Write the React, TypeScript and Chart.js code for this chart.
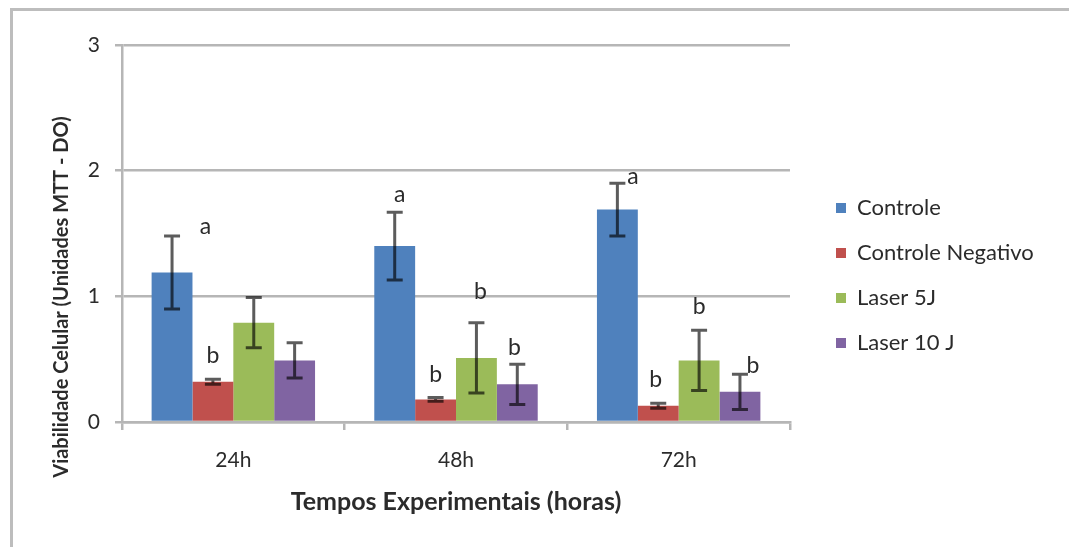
import React, { useEffect, useRef } from 'react';
import { Chart, registerables } from 'chart.js';

Chart.register(...registerables);

// ---------- data ----------
const categories = ['24h', '48h', '72h'];
const seriesNames = ['Controle', 'Controle Negativo', 'Laser 5J', 'Laser 10 J'];
const seriesColors = ['#4F81BD', '#C0504D', '#9BBB59', '#8064A2'];

const controle = [1.19, 1.4, 1.69];
const controleErr = [0.29, 0.27, 0.21];
const negativo = [0.32, 0.18, 0.13];
const negativoErr = [0.02, 0.015, 0.02];
const laser5 = [0.79, 0.51, 0.49];
const laser5Err = [0.2, 0.28, 0.24];
const laser10 = [0.49, 0.3, 0.24];
const laser10Err = [0.14, 0.16, 0.14];

// significance letters (text, anchor value in data units, x shift in bar widths)
const controleLetters = ['a', 'a', 'a'];
const controleLetterY = [1.5, 1.75, 1.89];
const controleLetterDx = [0.82, 0.12, 0.38];
const negativoLetters = ['b', 'b', 'b'];
const negativoLetterY = [0.47, 0.32, 0.28];
const negativoLetterDx = [0, 0, -0.06];
const laser5Letters = ['', 'b', 'b'];
const laser5LetterY = [0, 0.98, 0.86];
const laser5LetterDx = [0, 0.1, 0];
const laser10Letters = ['', 'b', 'b'];
const laser10LetterY = [0, 0.53, 0.39];
const laser10LetterDx = [0, -0.07, 0.32];

const yMin = 0;
const yMax = 3;
const yStep = 1;

const xTitle = 'Tempos Experimentais (horas)';
const yTitle = 'Viabilidade Celular (Unidades MTT - DO)';

// ---------- layout ----------
const W = 1069;
const H = 547;
const FONT = 'Lato, Calibri, Carlito, sans-serif';
const TEXT = '#2b2b2b';
const GRID = '#b6b6b6';
const LEGEND_FS = 22;
const LEGEND_PAD = 23;
const LEGEND_BOX = 10;
const LEGEND_LEFT = 813;
const RIGHT_GAP = 23;

function measure(text: string, font: string): number {
  const c = document.createElement('canvas').getContext('2d');
  if (!c) return 0;
  c.font = font;
  return c.measureText(text).width;
}

const errorBarPlugin = {
  id: 'errorBars',
  afterDatasetsDraw(chart: any) {
    const ctx = chart.ctx;
    const ys = chart.scales.y;
    ctx.save();
    ctx.strokeStyle = 'rgba(0,0,0,0.64)';
    ctx.lineWidth = 3;
    chart.data.datasets.forEach((ds: any, i: number) => {
      const meta = chart.getDatasetMeta(i);
      meta.data.forEach((bar: any, j: number) => {
        const v = ds.data[j];
        const e = ds.errors[j];
        const x = bar.x;
        const yt = ys.getPixelForValue(v + e);
        const yb = ys.getPixelForValue(v - e);
        const cap = 8;
        ctx.beginPath();
        ctx.moveTo(x, yt);
        ctx.lineTo(x, yb);
        ctx.moveTo(x - cap, yt);
        ctx.lineTo(x + cap, yt);
        ctx.moveTo(x - cap, yb);
        ctx.lineTo(x + cap, yb);
        ctx.stroke();
      });
    });
    ctx.restore();
  },
};

const letterPlugin = {
  id: 'letters',
  afterDatasetsDraw(chart: any) {
    const ctx = chart.ctx;
    const ys = chart.scales.y;
    ctx.save();
    ctx.fillStyle = TEXT;
    ctx.font = `23px ${FONT}`;
    ctx.textAlign = 'center';
    ctx.textBaseline = 'alphabetic';
    chart.data.datasets.forEach((ds: any, i: number) => {
      const meta = chart.getDatasetMeta(i);
      meta.data.forEach((bar: any, j: number) => {
        const t = ds.letters[j];
        if (!t) return;
        const x = bar.x + ds.letterDx[j] * bar.width;
        const y = ys.getPixelForValue(ds.letterY[j]);
        ctx.fillText(t, x, y);
      });
    });
    ctx.restore();
  },
};

const yTitlePlugin = {
  id: 'yTitleCustom',
  afterDraw(chart: any) {
    const ctx = chart.ctx;
    const a = chart.chartArea;
    ctx.save();
    ctx.translate(62, a.bottom - 125);
    ctx.rotate(-Math.PI / 2);
    ctx.fillStyle = TEXT;
    ctx.font = `bold 20px ${FONT}`;
    ctx.textAlign = 'center';
    ctx.textBaseline = 'middle';
    ctx.fillText(yTitle, 0, 0);
    ctx.restore();
  },
};

export default function App() {
  const ref = useRef<HTMLCanvasElement | null>(null);

  useEffect(() => {
    if (!ref.current) return;
    const legendFont = `${LEGEND_FS}px ${FONT}`;
    const tw = Math.max(...seriesNames.map((s) => measure(s, legendFont)));
    const legendWidth = LEGEND_PAD + LEGEND_BOX + LEGEND_FS / 2 + tw + 10;
    const padRight = Math.max(0, W - LEGEND_LEFT - legendWidth);

    const values = [controle, negativo, laser5, laser10];
    const errs = [controleErr, negativoErr, laser5Err, laser10Err];
    const letters = [controleLetters, negativoLetters, laser5Letters, laser10Letters];
    const letterYs = [controleLetterY, negativoLetterY, laser5LetterY, laser10LetterY];
    const letterDxs = [controleLetterDx, negativoLetterDx, laser5LetterDx, laser10LetterDx];

    const chart = new Chart(ref.current, {
      type: 'bar',
      data: {
        labels: categories,
        datasets: seriesNames.map((name, i) => ({
          label: name,
          data: values[i],
          errors: errs[i],
          letters: letters[i],
          letterY: letterYs[i],
          letterDx: letterDxs[i],
          backgroundColor: seriesColors[i],
          borderWidth: 0,
          categoryPercentage: 0.734,
          barPercentage: 1,
        })) as any,
      },
      options: {
        responsive: false,
        animation: false,
        layout: { padding: { top: 45, bottom: 41, left: 0, right: padRight } },
        plugins: {
          tooltip: { enabled: false },
          legend: {
            position: 'right',
            align: 'center',
            maxWidth: 500,
            labels: {
              boxWidth: LEGEND_BOX,
              boxHeight: LEGEND_BOX,
              padding: LEGEND_PAD,
              color: TEXT,
              font: { family: FONT, size: LEGEND_FS },
            },
          },
        },
        scales: {
          x: {
            offset: true,
            grid: {
              display: true,
              offset: true,
              drawOnChartArea: false,
              drawTicks: true,
              tickLength: 8,
              color: GRID,
              lineWidth: 2.5,
            },
            border: { display: true, color: GRID, width: 2.5 },
            ticks: { color: TEXT, font: { family: FONT, size: 21 }, padding: 18 },
            title: {
              display: true,
              text: xTitle,
              color: TEXT,
              font: { family: FONT, size: 25, weight: 'bold' },
              padding: { top: 0, bottom: -11 },
            },
            afterFit(s: any) {
              s.height = H - 41 - 422;
            },
          },
          y: {
            min: yMin,
            max: yMax,
            ticks: { stepSize: yStep, color: TEXT, font: { family: FONT, size: 21 }, padding: 15 },
            grid: { color: GRID, lineWidth: 2.5, drawTicks: true, tickLength: 7 },
            border: { display: true, color: GRID, width: 2.5 },
            afterFit(s: any) {
              s.width = 122;
            },
          },
          r: {
            type: 'linear',
            position: 'right',
            display: true,
            grid: { display: false },
            border: { display: false },
            ticks: { display: false },
            afterFit(s: any) {
              s.width = RIGHT_GAP;
            },
          },
        },
      } as any,
      plugins: [errorBarPlugin, letterPlugin, yTitlePlugin],
    });
    return () => chart.destroy();
  }, []);

  return (
    <div style={{ position: 'fixed', left: 0, top: 0, width: W, height: H, background: '#fff' }}>
      <div
        style={{
          position: 'absolute',
          left: 10,
          top: 8,
          right: 0,
          bottom: 0,
          borderTop: '3px solid #bdbdbd',
          borderLeft: '3px solid #bdbdbd',
        }}
      />
      <canvas ref={ref} width={W} height={H} style={{ position: 'absolute', left: 0, top: 0 }} />
    </div>
  );
}
